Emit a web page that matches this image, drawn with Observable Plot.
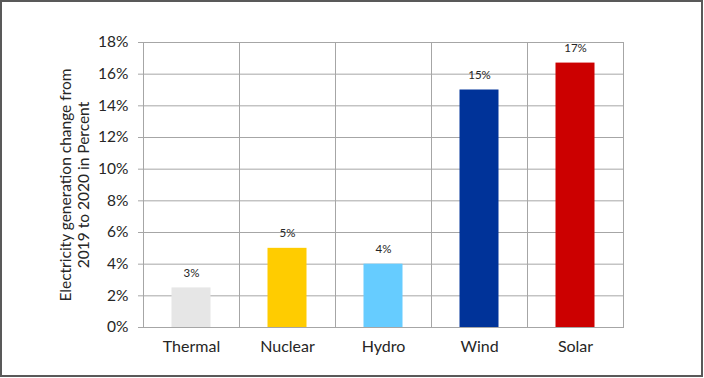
<!DOCTYPE html>
<html>
<head>
<meta charset="utf-8">
<script src="https://cdn.jsdelivr.net/npm/d3@7"></script>
<script src="https://cdn.jsdelivr.net/npm/@observablehq/plot@0.6"></script>
<style>
  html, body { margin: 0; padding: 0; background: #fff; }
  #wrap { position: relative; width: 704px; height: 378px; }
  #frame { position: absolute; left: 0; top: 0; width: 699px; height: 373px; border: 2px solid #595959; pointer-events: none; }
  svg { display: block; }
</style>
</head>
<body>
<div id="wrap"><div id="chart"></div><div id="frame"></div></div>
<script>
const categories = ["Thermal", "Nuclear", "Hydro", "Wind", "Solar"];
const values = [2.5, 5.0, 4.0, 15.0, 16.7];
const valueLabels = ["3%", "5%", "4%", "15%", "17%"];
const colors = ["#e6e6e6", "#ffcc00", "#66ccff", "#003399", "#cc0000"];
const yTicks = [0, 2, 4, 6, 8, 10, 12, 14, 16, 18];
const yTitle = "Electricity generation change from\n2019 to 2020 in Percent";

const data = categories.map((c, i) => ({cat: c, value: values[i], label: valueLabels[i], color: colors[i]}));
const grid = "#a6a6a6";
const font = "Lato, 'Open Sans', sans-serif";

const plot = Plot.plot({
  width: 704,
  height: 378,
  marginLeft: 143,
  marginRight: 81,
  marginTop: 42,
  marginBottom: 51,
  style: {fontFamily: font, background: "transparent", color: "#262626"},
  x: {domain: categories, padding: 0, axis: null, label: null},
  y: {domain: [0, 18], axis: null, label: null},
  marks: [
    Plot.ruleY(yTicks, {stroke: grid, strokeWidth: 1}),
    Plot.ruleX(categories.slice(1), {x: d => d, dx: -48, stroke: grid}),
    Plot.frame({stroke: grid}),
    Plot.barY(data, {x: "cat", y: "value", fill: "color", insetLeft: 28.5, insetRight: 28.5}),
    Plot.text(data, {x: "cat", y: "value", text: "label", dy: -15, fontSize: 11.5, fill: "#262626", style: "letter-spacing:1px"}),
    Plot.axisY({ticks: yTicks, tickFormat: d => d + "%", tickSize: 5, stroke: grid, strokeOpacity: 1, tickPadding: 10, fontSize: 15.5, fill: "#262626", label: null}),
    Plot.axisX({tickSize: 0, tickPadding: 13, fontSize: 16, fill: "#262626", label: null}),
    Plot.text([yTitle], {frameAnchor: "left", textAnchor: "middle", rotate: -90, dx: -69, fontSize: 15.5, lineHeight: 1.17, fill: "#262626"})
  ]
});
document.getElementById("chart").appendChild(plot);
</script>
</body>
</html>
